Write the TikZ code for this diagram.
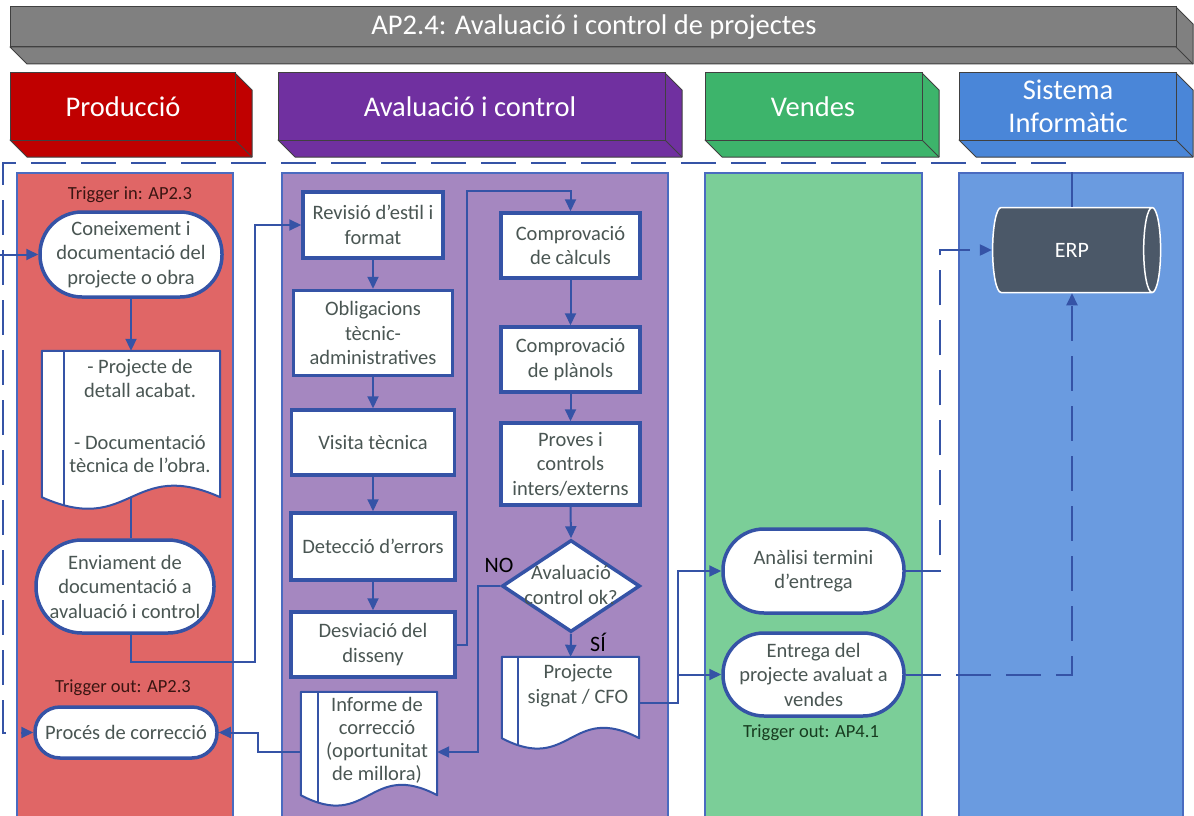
\documentclass[tikz,border=0pt]{standalone}
\usepackage{fontspec}
\setmainfont{Carlito}
\usetikzlibrary{arrows.meta,shapes.geometric,calc}
\pgfdeclarelayer{lanes}
\pgfdeclarelayer{docs}
\pgfsetlayers{lanes,docs,main}

\definecolor{titlegray}{HTML}{808080}
\definecolor{prodhead}{HTML}{C00000}
\definecolor{prodlane}{HTML}{E06666}
\definecolor{evalhead}{HTML}{7030A0}
\definecolor{evallane}{HTML}{A587C0}
\definecolor{salehead}{HTML}{3DB46B}
\definecolor{salelane}{HTML}{7BCE98}
\definecolor{syshead}{HTML}{4A86D8}
\definecolor{syslane}{HTML}{6A9BE0}
\definecolor{flowblue}{HTML}{3553A6}
\definecolor{laneedge}{HTML}{4A6BC0}
\definecolor{nodetext}{HTML}{4A5653}
\definecolor{erpfill}{HTML}{4B5868}
\definecolor{trigred}{HTML}{3A1512}
\definecolor{triggreen}{HTML}{173B1F}

\tikzset{
  every node/.style={font=\fontsize{20.5}{24.5}\selectfont, text=nodetext, inner sep=0pt},
  hdrtext/.style={font=\fontsize{28.5}{33}\selectfont, text=white, align=center},
  stepbox/.style={rectangle, draw=flowblue, line width=3.5pt, fill=white, align=center},
  terminal/.style={rectangle, rounded corners=#1, draw=flowblue, line width=3.5pt, fill=white, align=center},
  docbody/.style={rectangle},
  doctext/.style={align=center, font=\fontsize{20.5}{23.5}\selectfont},
  docedge/.style={draw=flowblue, line width=2pt},
  lane/.style={draw=laneedge, line width=1.5pt},
  flow/.style={draw=flowblue, line width=2pt},
  arrow/.style={flow, -{Triangle[length=12pt,width=11pt]}},
  dashedflow/.style={flow, dash pattern=on 35pt off 15pt},
  triggertext/.style={font=\fontsize{18.5}{22}\selectfont},
  answer/.style={font=\fontsize{22}{26}\selectfont, text=black},
}

% 3D slab: front rectangle (#1,#2)-(#3,#4), depth #5, colour #6
\newcommand\extruded[6]{%
  \filldraw[fill=#6, draw=black!75, line width=1pt, line join=round]
    (#3,#2) -- (#3+#5,#2+#5) -- (#3+#5,#4+#5) -- (#1+#5,#4+#5) -- (#1,#4) -- (#3,#4) -- cycle;
  \filldraw[fill=#6, draw=black!75, line width=1pt] (#1,#2) rectangle (#3,#4);
  \draw[black!75, line width=1pt] (#3,#4) -- (#3+#5,#4+#5);
}

% document symbol around a node: #1 node, #2 stripe inset, #3 wave control offset
\newcommand\docframe[3]{%
  \begin{pgfonlayer}{docs}
    \fill[white] (#1.north west) -- (#1.north east) -- (#1.south east)
      .. controls ([yshift=#3]#1.south) and ([yshift=-#3]#1.south) .. (#1.south west) -- cycle;
    \begin{scope}
      \clip (#1.north west) -- (#1.north east) -- (#1.south east)
        .. controls ([yshift=#3]#1.south) and ([yshift=-#3]#1.south) .. (#1.south west) -- cycle;
      \draw[docedge] ([xshift=#2]#1.north west) -- ([xshift=#2,yshift=-#3]#1.south west);
    \end{scope}
    \draw[docedge, line join=round] (#1.north west) -- (#1.north east) -- (#1.south east)
      .. controls ([yshift=#3]#1.south) and ([yshift=-#3]#1.south) .. (#1.south west) -- cycle;
  \end{pgfonlayer}
}

\begin{document}
\begin{tikzpicture}[x=1pt,y=-1pt]
\useasboundingbox (0,0) rectangle (1194,816);

% ---------- headers and lanes ----------
\begin{pgfonlayer}{lanes}
  \extruded{10}{7}{1176}{47}{17}{titlegray}
  \extruded{10}{73}{235}{140}{17}{prodhead}
  \extruded{278}{73}{665}{140}{17}{evalhead}
  \extruded{705}{73}{922}{140}{17}{salehead}
  \extruded{959}{73}{1176}{140}{17}{syshead}

  \filldraw[lane, fill=prodlane] (17,173) rectangle (233,830);
  \filldraw[lane, fill=evallane] (282,173) rectangle (668,830);
  \filldraw[lane, fill=salelane] (705,173) rectangle (922,830);
  \filldraw[lane, fill=syslane] (959,173) rectangle (1183,830);
\end{pgfonlayer}

\node[hdrtext] (title) at (594,27) {AP2.4: Avaluació i control de projectes};
\node[hdrtext] (hprod) at (123,107) {Producció};
\node[hdrtext] (heval) at (470,107) {Avaluació i control};
\node[hdrtext] (hsale) at (813,107) {Vendes};
\node[hdrtext] (hsys) at (1068,106) {Sistema\\Informàtic};

\coordinate (leftedge) at (0,0);

% ---------- Producció ----------
\node[triggertext, text=trigred] (trigin) at (130,195) {Trigger in: AP2.3};
\node[terminal=42pt, minimum width=182pt, minimum height=85pt] (con) at (131,254.5)
  {Coneixement i\\documentació del\\projecte o obra};
\node[docbody, minimum width=178pt, minimum height=146pt] (doc1) at (131,424) {};
\docframe{doc1}{22pt}{40pt}
\node[doctext] (doc1text) at ([xshift=9pt,yshift=8pt]doc1.center)
  {- Projecte de\\detall acabat.\\[28.5pt]- Documentació\\tècnica de l’obra.};
\node[terminal=46pt, minimum width=178pt, minimum height=93pt] (env) at (125,586.5)
  {Enviament de\\documentació a\\avaluació i control};
\node[triggertext, text=trigred] (trigout) at (123,688) {Trigger out: AP2.3};
\node[terminal=25pt, minimum width=182pt, minimum height=51pt] (proc) at (126,732.5)
  {Procés de correcció};

% ---------- Avaluació i control ----------
\node[stepbox, minimum width=140pt, minimum height=66pt] (rev) at (373,225) {Revisió d’estil i\\format};
\node[stepbox, minimum width=159pt, minimum height=85pt] (obl) at (373,333) {Obligacions\\tècnic-\\administratives};
\node[stepbox, minimum width=163pt, minimum height=65pt] (vis) at (373,442.5) {Visita tècnica};
\node[stepbox, minimum width=164pt, minimum height=67pt] (det) at (373,546.5) {Detecció d’errors};
\node[stepbox, minimum width=164pt, minimum height=65pt] (des) at (373,644.5) {Desviació del\\disseny};

\node[stepbox, minimum width=139pt, minimum height=65pt] (cal) at (570.5,245.5) {Comprovació\\de càlculs};
\node[stepbox, minimum width=139pt, minimum height=65pt] (pla) at (570.5,359.5) {Comprovació\\de plànols};
\node[stepbox, minimum width=139pt, minimum height=82pt] (pro) at (570.5,464) {Proves i\\controls\\inters/externs};
\node[diamond, draw=flowblue, line width=3.5pt, fill=white, minimum width=138pt, minimum height=92pt] (dia) at (571,586) {};
\node[align=center] (dialabel) at (571,585) {Avaluació\\control ok?};
\node[answer] (no) at (499,565) {NO};
\node[answer] (si) at (598,642) {SÍ};

\node[docbody, minimum width=137pt, minimum height=81pt] (sig) at (570.5,697.5) {};
\docframe{sig}{16pt}{36pt}
\node[doctext, font=\fontsize{20.5}{25}\selectfont] (sigtext) at ([xshift=7.5pt,yshift=12pt]sig.center) {Projecte\\signat / CFO};

\node[docbody, minimum width=136pt, minimum height=103pt] (inf) at (369,743.5) {};
\docframe{inf}{17pt}{36pt}
\node[doctext, font=\fontsize{20.5}{23}\selectfont] (inftext) at ([xshift=8pt,yshift=3pt]inf.center)
  {Informe de\\correcció\\(oportunitat\\de millora)};

% ---------- Vendes ----------
\node[terminal=41pt, minimum width=181pt, minimum height=84pt] (ana) at (813.5,571) {Anàlisi termini\\d’entrega};
\node[terminal=41pt, minimum width=181pt, minimum height=83pt] (ent) at (813.5,674.5) {Entrega del\\projecte avaluat a\\vendes};
\node[triggertext, text=triggreen] (trigsale) at (811,733) {Trigger out: AP4.1};

% ---------- Sistema Informàtic ----------
\node[cylinder, draw=white, line width=1.5pt, fill=erpfill, minimum width=85pt, minimum height=168pt,
      aspect=1.2, text=white, font=\fontsize{22}{26}\selectfont] (erp) at (1072,250) {ERP};

% ---------- connectors ----------
\coordinate (sendjoint) at (255,662);
\coordinate (loopx) at (467,191);
\coordinate (nojoint) at (478,752);
\coordinate (corrjoint) at (258,752);
\coordinate (sigjoint) at (678,703);
\coordinate (erpbend) at (940,250);

\draw[arrow] (con.west -| leftedge) -- (con.west);
\draw[arrow] (con.south) -- (doc1.north);
\draw[flow] (doc1.south) -- (doc1.south |- env.north);
\draw[arrow] (env.south -| doc1.south) |- (sendjoint) |- (rev.west);

\draw[arrow] (rev) -- (obl);
\draw[arrow] (obl) -- (vis);
\draw[arrow] (vis) -- (det);
\draw[arrow] (det) -- (des);
\draw[arrow] (des.east) -| (loopx) -| (cal.north);
\draw[arrow] (cal) -- (pla);
\draw[arrow] (pla) -- (pro);
\draw[arrow] (pro.south) -- (dia.north);
\draw[arrow] (dia.south) -- (sig.north);
\draw[arrow] (dia.west) -| (nojoint) -- (inf.east |- nojoint);
\draw[arrow] (inf.west |- corrjoint) -- (corrjoint) |- (proc.east);

\draw[arrow] (sig.east |- sigjoint) -- (sigjoint) |- (ana.west);
\draw[arrow] (sigjoint |- ent.west) -- (ent.west);

\draw[dashedflow, -{Triangle[length=12pt,width=11pt]}] (ana.east) -| (erpbend) -- (erp.west);
\draw[dashedflow, -{Triangle[length=12pt,width=11pt]}] (ent.east) -| (erp.south);
\draw[dashedflow, -{Triangle[length=12pt,width=11pt]}] (erp.north) |- (3,163) |- (proc.west);

\end{tikzpicture}
\end{document}
